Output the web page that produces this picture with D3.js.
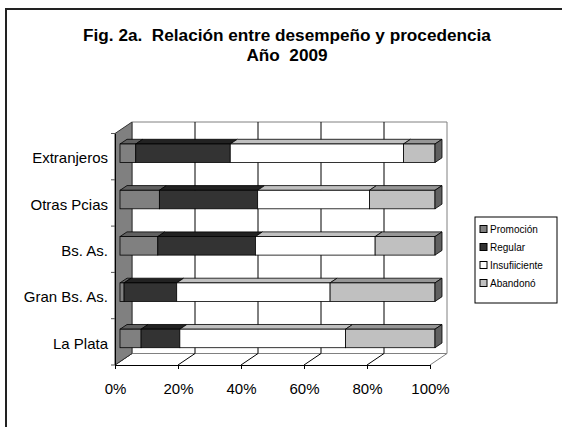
<!DOCTYPE html>
<html>
<head>
<meta charset="utf-8">
<script src="https://cdn.jsdelivr.net/npm/d3@7"></script>
<style>
  body { margin: 0; background: #fff; }
  text { font-family: "Liberation Sans", Arial, sans-serif; fill: #000; }
</style>
</head>
<body>
<div id="chart"></div>
<script>
var width = 562,
    height = 427;

// data (percent of each group)
var categories = ["Extranjeros", "Otras Pcias", "Bs. As.", "Gran Bs. As.", "La Plata"];
var series = ["Promoción", "Regular", "Insufiiciente", "Abandonó"];
var promocion    = [5, 12.5, 12, 1.3, 6.7];
var regular      = [30, 31.2, 31, 16.7, 12.3];
var insuficiente = [55, 35.5, 38, 48.7, 52.6];
var abandono     = [10, 20.8, 19, 33.3, 28.4];
var ticks = [0, 20, 40, 60, 80, 100];

var frontColors = ["#808080", "#333333", "#ffffff", "#c0c0c0"];
var topColors   = ["#606060", "#222222", "#c0c0c0", "#969696"];

var svg = d3.select("#chart").append("svg")
    .attr("width", width)
    .attr("height", height);

// outer frame (only top & left visible)
svg.append("rect")
    .attr("x", 6).attr("y", 9)
    .attr("width", 700).attr("height", 600)
    .attr("fill", "none")
    .attr("stroke", "#222")
    .attr("stroke-width", 2);

// title
svg.append("text")
    .attr("x", 287).attr("y", 41)
    .attr("text-anchor", "middle")
    .attr("font-size", 17.2).attr("font-weight", "bold")
    .style("white-space", "pre")
    .text("Fig. 2a.  Relación entre desempeño y procedencia");
svg.append("text")
    .attr("x", 287).attr("y", 61)
    .attr("text-anchor", "middle")
    .attr("font-size", 17.2).attr("font-weight", "bold")
    .style("white-space", "pre")
    .text("Año  2009");

// 3d geometry
var dx = 17, dy = -11.5;     // depth of the plot box
var x = d3.scaleLinear().domain([0, 100]).range([115, 430]);
var y = d3.scaleBand().domain(categories).range([133.5, 365]);
var y0 = 365, yTop = 133.5;

var rows = categories.map(function (c, i) {
    var vals = [promocion[i], regular[i], insuficiente[i], abandono[i]];
    var acc = 0;
    return {
        name: c,
        segs: vals.map(function (v, k) {
            var s = { k: k, a: acc, b: acc + v };
            acc += v;
            return s;
        })
    };
});

function pts(arr) { return arr.map(function (p) { return p.join(","); }).join(" "); }

// back wall
svg.append("polygon")
    .attr("points", pts([[x(0) + dx, yTop + dy], [x(100) + dx, yTop + dy], [x(100) + dx, y0 + dy], [x(0) + dx, y0 + dy]]))
    .attr("fill", "#fff")
    .attr("stroke", "#808080")
    .attr("stroke-width", 1);

// grid lines on the back wall and floor
svg.selectAll(".vgrid")
    .data(ticks.slice(1, -1))
    .enter().append("line")
    .attr("class", "vgrid")
    .attr("x1", function (d) { return x(d) + dx; })
    .attr("x2", function (d) { return x(d) + dx; })
    .attr("y1", yTop + dy)
    .attr("y2", y0 + dy)
    .attr("stroke", "#000");
svg.selectAll(".fgrid")
    .data(ticks)
    .enter().append("line")
    .attr("class", "fgrid")
    .attr("x1", function (d) { return x(d); })
    .attr("x2", function (d) { return x(d) + dx; })
    .attr("y1", y0)
    .attr("y2", y0 + dy)
    .attr("stroke", function (d) { return d == 100 ? "#808080" : "#000"; });

// left wall
svg.append("polygon")
    .attr("points", pts([[x(0), yTop], [x(0) + dx, yTop + dy], [x(0) + dx, y0 + dy], [x(0), y0]]))
    .attr("fill", "#808080")
    .attr("stroke", "#333")
    .attr("stroke-width", 1);

// axes
var xAxis = d3.axisBottom(x).tickValues(ticks).tickSize(4).tickSizeOuter(0)
    .tickFormat(function (d) { return d + "%"; });
var gx = svg.append("g").attr("transform", "translate(0," + y0 + ")").call(xAxis);
gx.select(".domain").attr("stroke", "#000");
gx.selectAll("text").attr("font-size", 15).attr("font-family", "Liberation Sans, Arial, sans-serif").attr("dy", "1.45em");

var yAxis = d3.axisLeft(y).tickSize(0).tickSizeOuter(0).tickPadding(7);
var gy = svg.append("g").attr("transform", "translate(" + x(0) + ",0)").call(yAxis);
gy.select(".domain").attr("stroke", "#000");
gy.selectAll("text").attr("font-size", 15).attr("font-family", "Liberation Sans, Arial, sans-serif").attr("dy", "0.45em");
// category separators
svg.selectAll(".ytick")
    .data(categories.concat(["end"]))
    .enter().append("line")
    .attr("class", "ytick")
    .attr("x1", x(0) - 4).attr("x2", x(0))
    .attr("y1", function (d, i) { return i < categories.length ? y(d) : y0; })
    .attr("y2", function (d, i) { return i < categories.length ? y(d) : y0; })
    .attr("stroke", "#555");

// bars
var ox = 5, oy = -3.4;       // bar offset from the front
var bdx = 7, bdy = -4.7;     // bar depth
var bh = y.bandwidth() * 0.4;

var bars = svg.selectAll(".bar")
    .data(rows)
    .enter().append("g")
    .attr("class", "bar");

bars.each(function (r) {
    var g = d3.select(this);
    var yf = y(r.name) + y.bandwidth() / 2 - bh / 2 + oy;
    r.segs.forEach(function (s) {
        var xa = x(s.a) + ox, xb = x(s.b) + ox;
        g.append("polygon")
            .attr("points", pts([[xa, yf], [xa + bdx, yf + bdy], [xb + bdx, yf + bdy], [xb, yf]]))
            .attr("fill", topColors[s.k])
            .attr("stroke", "#000").attr("stroke-width", 0.8);
        g.append("rect")
            .attr("x", xa).attr("y", yf)
            .attr("width", xb - xa).attr("height", bh)
            .attr("fill", frontColors[s.k])
            .attr("stroke", "#000").attr("stroke-width", 0.8);
    });
    var xe = x(100) + ox;
    g.append("polygon")
        .attr("points", pts([[xe, yf], [xe + bdx, yf + bdy], [xe + bdx, yf + bdy + bh], [xe, yf + bh]]))
        .attr("fill", "#606060")
        .attr("stroke", "#000").attr("stroke-width", 0.8);
});

// legend
var leg = svg.append("g").attr("transform", "translate(475,217)");
leg.append("rect")
    .attr("width", 82).attr("height", 86)
    .attr("fill", "#fff").attr("stroke", "#000");
var li = leg.selectAll(".li")
    .data(series)
    .enter().append("g")
    .attr("class", "li")
    .attr("transform", function (d, i) { return "translate(5," + (12 + i * 18) + ")"; });
li.append("rect")
    .attr("x", 0).attr("y", -3.5)
    .attr("width", 7).attr("height", 7)
    .attr("fill", function (d, i) { return frontColors[i]; })
    .attr("stroke", "#000");
li.append("text")
    .attr("x", 10).attr("y", 3.8)
    .attr("font-size", 10)
    .text(function (d) { return d; });
</script>
</body>
</html>
